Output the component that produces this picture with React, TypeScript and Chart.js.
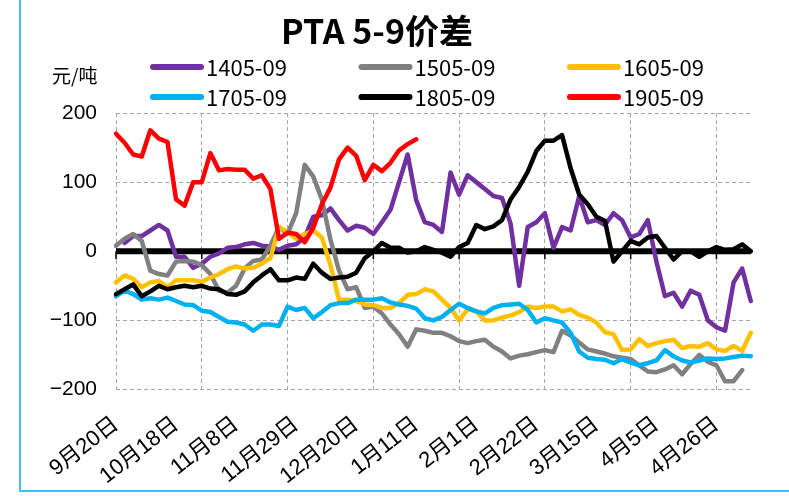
import React, { useEffect, useRef } from "react";
import { Chart, registerables } from "chart.js";

Chart.register(...registerables);

// ---- data ----
const TITLE = "PTA 5-9价差";
const UNIT = "元/吨";
const tickLabels = ["9月20日", "10月18日", "11月8日", "11月29日", "12月20日", "1月11日", "2月1日", "2月22日", "3月15日", "4月5日", "4月26日"];
const POINTS = 75;
const LABEL_STEP = 7;
const GRID_STEP = 10;

const seriesNames = ["1405-09", "1505-09", "1605-09", "1705-09", "1805-09", "1905-09"];
const seriesColors = ["#7030A0", "#808080", "#FFC000", "#00B0F0", "#000000", "#FF0000"];

const s1405 = [null, 12, 22, 22, 30, 38, 30, -8, -8, -24,
  -18, -8, -3, 5, 6, 10, 12, 8, 7, 2,
  8, 10, 20, 50, 52, 62, 45, 30, 37, 34,
  25, 42, 60, 100, 140, 74, 42, 38, 28, 114,
  82, 110, 100, 90, 80, 77, 40, -50, 35, 42,
  55, 5, 35, 30, 80, 42, 45, 38, 55, 45,
  20, 25, 45, -15, -65, -60, -80, -57, -63, -100,
  -110, -115, -45, -25, -72];
const s1505 = [8, 18, 25, 15, -28, -33, -35, -15, -14, -15,
  -20, -33, -57, -60, -50, -25, -14, -12, 8, 35,
  25, 55, 125, 108, 75, 17, -28, -55, -52, -82,
  -80, -90, -106, -120, -138, -113, -115, -118, -118, -123,
  -130, -133, -130, -128, -138, -145, -155, -151, -149, -146,
  -143, -146, -115, -122, -132, -142, -145, -148, -152, -154,
  -156, -165, -174, -175, -171, -165, -178, -163, -150, -160,
  -165, -188, -188, -172, null];
const s1605 = [-45, -35, -40, -52, -45, -43, -52, -42, -42, -42,
  -44, -38, -33, -26, -22, -25, -24, -18, -10, 35,
  28, 18, 25, 30, 20, -20, -70, -70, -72, -77,
  -78, -82, -82, -75, -63, -62, -55, -58, -70, -82,
  -100, -84, -87, -100, -100, -96, -93, -88, -80, -82,
  -80, -80, -87, -84, -92, -96, -103, -117, -120, -143,
  -142, -127, -137, -133, -130, -128, -140, -137, -138, -133,
  -142, -144, -137, -144, -118];
const s1705 = [-65, -57, -62, -70, -68, -70, -67, -72, -77, -78,
  -86, -88, -95, -102, -103, -106, -115, -106, -106, -108,
  -80, -85, -82, -97, -88, -78, -75, -75, -70, -70,
  -70, -68, -74, -77, -79, -83, -97, -100, -95, -85,
  -76, -82, -87, -90, -82, -78, -77, -76, -85, -103,
  -97, -100, -103, -118, -145, -154, -156, -157, -162, -156,
  -161, -165, -162, -158, -143, -152, -158, -161, -158, -155,
  -156, -155, -153, -151, -152];
const s1805 = [-62, -55, -48, -65, -58, -50, -55, -52, -50, -52,
  -50, -54, -55, -62, -63, -58, -45, -35, -26, -42,
  -42, -38, -40, -18, -31, -40, -38, -37, -31, -10,
  0, 12, 5, 5, -2, 0, 6, 2, -2, -8,
  6, 12, 38, 32, 36, 45, 75, 93, 115, 145,
  160, 160, 168, 120, 82, 68, 50, 44, -15, 0,
  15, 10, 20, 22, 5, -12, 0, 0, -8, 0,
  6, 2, 3, 10, 0];
const s1905 = [170, 157, 140, 137, 175, 163, 158, 75, 66, 100,
  100, 142, 117, 119, 118, 118, 105, 110, 90, 18,
  27, 25, 13, 34, 68, 92, 133, 150, 138, 103,
  125, 116, 128, 146, 155, 162];

const seriesValues = [s1405, s1505, s1605, s1705, s1805, s1905];

const categories = Array.from({ length: POINTS }, (_, i) =>
  i % LABEL_STEP === 0 ? tickLabels[i / LABEL_STEP] ?? "" : ""
);

const padTo = (arr: (number | null)[], n: number) =>
  Array.from({ length: n }, (_, i) => (i < arr.length ? arr[i] : null));

const CJK = '"Noto Sans CJK SC", "Liberation Sans", sans-serif';
const LAT = '"Liberation Sans", "Noto Sans CJK SC", sans-serif';
const GRID_COLOR = "#A6A6A6";

const decorPlugin = {
  id: "decor",
  beforeDatasetsDraw(chart: any) {
    const { ctx, chartArea, scales } = chart;
    const y0 = scales.y.getPixelForValue(0);
    ctx.save();
    ctx.strokeStyle = "#000";
    ctx.lineWidth = 6;
    ctx.beginPath();
    ctx.moveTo(chartArea.left, y0);
    ctx.lineTo(chartArea.right, y0);
    ctx.stroke();
    ctx.lineWidth = 1.5;
    for (let i = 0; i < POINTS; i += GRID_STEP) {
      const x = scales.x.getPixelForValue(i);
      ctx.beginPath();
      ctx.moveTo(x, y0);
      ctx.lineTo(x, y0 + 8);
      ctx.stroke();
    }
    ctx.restore();
  },
  afterDraw(chart: any) {
    const { ctx } = chart;
    ctx.save();
    // title
    ctx.fillStyle = "#000";
    ctx.font = `bold 34px ${CJK}`;
    ctx.textAlign = "center";
    ctx.textBaseline = "alphabetic";
    ctx.fillText(TITLE, 377, 44);
    // unit
    ctx.font = `19px ${CJK}`;
    ctx.textAlign = "left";
    ctx.textBaseline = "middle";
    ctx.fillText(UNIT, 52, 76);
    // legend
    const datasets = chart.data.datasets;
    datasets.forEach((ds: any, i: number) => {
      const col = i % 3;
      const row = Math.floor(i / 3);
      const x0 = 151 + col * 208.5;
      const y = 67 + row * 30;
      ctx.strokeStyle = ds.borderColor;
      ctx.lineWidth = 6;
      ctx.lineCap = "round";
      ctx.beginPath();
      ctx.moveTo(x0 + 2, y);
      ctx.lineTo(x0 + 50, y);
      ctx.stroke();
      ctx.fillStyle = "#000";
      ctx.font = `22px ${CJK}`;
      ctx.textAlign = "left";
      ctx.textBaseline = "middle";
      ctx.fillText(ds.label, x0 + 55, y + 1);
    });
    ctx.restore();
  },
};

export default function App() {
  const canvasRef = useRef<HTMLCanvasElement | null>(null);

  useEffect(() => {
    if (!canvasRef.current) return;
    const chart = new Chart(canvasRef.current, {
      type: "line",
      data: {
        labels: categories,
        datasets: seriesNames.map((name, i) => ({
          label: name,
          data: padTo(seriesValues[i], POINTS),
          borderColor: seriesColors[i],
          backgroundColor: seriesColors[i],
          borderWidth: 4.5,
          pointRadius: 0,
          tension: 0,
          borderCapStyle: "round",
          borderJoinStyle: "round",
          spanGaps: false,
          order: seriesNames.length - i,
        })),
      },
      options: {
        animation: false,
        responsive: false,
        layout: { padding: { top: 113, right: 26, bottom: 0, left: 0 } },
        plugins: {
          legend: { display: false },
          title: { display: false },
          tooltip: { enabled: false },
        },
        scales: {
          x: {
            type: "category",
            grid: {
              color: (c: any) => (c.index % GRID_STEP === 0 ? GRID_COLOR : "rgba(0,0,0,0)"),
              lineWidth: 1,
              drawTicks: false,
            },
            border: { display: false, dash: [4, 3] },
            ticks: {
              autoSkip: false,
              minRotation: 38,
              maxRotation: 38,
              padding: 22,
              color: "#000",
              font: { family: LAT, size: 22 },
            },
            afterFit: (s: any) => {
              s.height = 106.5;
            },
          },
          y: {
            min: -200,
            max: 200,
            grid: { color: GRID_COLOR, lineWidth: 1, drawTicks: false },
            border: { display: false, dash: [4, 3] },
            ticks: {
              stepSize: 100,
              padding: 19,
              color: "#000",
              font: { family: LAT, size: 21 },
              callback: (v: any) => (Number(v) < 0 ? "\u2212" + Math.abs(Number(v)) : String(v)),
            },
            afterFit: (s: any) => {
              s.width = 116;
            },
          },
        },
      },
      plugins: [decorPlugin],
    });
    return () => chart.destroy();
  }, []);

  return (
    <div style={{ position: "fixed", left: 0, top: 0, width: 789, height: 496, background: "#fff", overflow: "hidden" }}>
      <div
        style={{
          position: "absolute",
          left: 19,
          top: -10,
          width: 800,
          height: 502,
          boxSizing: "border-box",
          border: "2px solid #41BFF0",
        }}
      />
      <canvas ref={canvasRef} width={789} height={496} style={{ position: "absolute", left: 0, top: 0 }} />
    </div>
  );
}
